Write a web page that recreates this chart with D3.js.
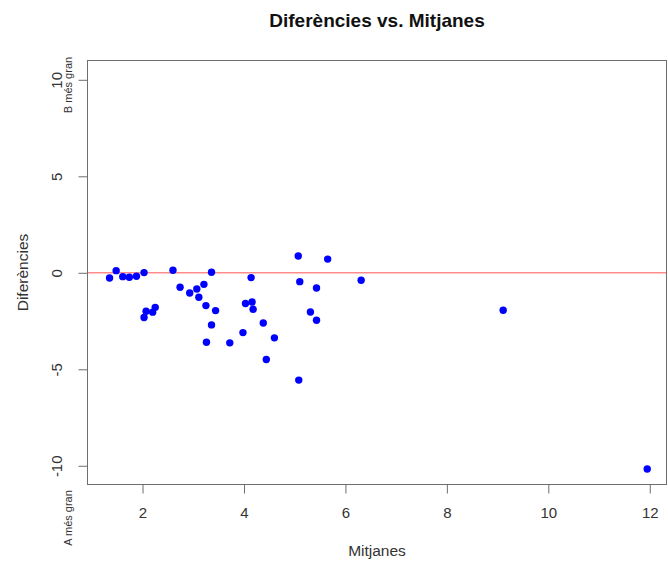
<!DOCTYPE html>
<html>
<head>
<meta charset="utf-8">
<script src="https://cdn.jsdelivr.net/npm/d3@7"></script>
<style>
  body { margin: 0; background: #fff; }
  svg { display: block; font-family: "Liberation Sans", Arial, sans-serif; }
</style>
</head>
<body>
<svg id="chart"></svg>
<script>
const width = 668, height = 563

// mitjanes (x) i diferències (y)
const mitjanes = [1.35, 1.48, 1.61, 1.74, 1.88, 2.03, 2.07, 2.20, 2.25, 2.03,
    2.60, 2.74, 2.93, 3.07, 3.21, 3.11, 3.25, 3.44, 3.36, 3.36,
    3.26, 3.72, 3.98, 4.03, 4.16, 4.18, 4.14, 4.38, 4.60, 4.44,
    5.07, 5.10, 5.08, 5.31, 5.43, 5.43, 5.65, 6.31, 9.11, 11.95]
const diferencies = [-0.27, 0.11, -0.20, -0.23, -0.18, 0.01, -1.99, -2.04, -1.79, -2.32,
    0.13, -0.75, -1.05, -0.84, -0.60, -1.27, -1.70, -1.96, 0.03, -2.70,
    -3.60, -3.63, -3.10, -1.59, -1.51, -1.89, -0.25, -2.60, -3.37, -4.49,
    0.87, -0.46, -5.56, -2.03, -2.46, -0.79, 0.71, -0.39, -1.94, -10.17]
const x_ticks = [2, 4, 6, 8, 10, 12]
const y_ticks = [-10, -5, 0, 5, 10]

const plot_left = 87.5, plot_right = 666.5, plot_top = 60.5, plot_bottom = 484.5

const svg = d3.select("#chart")
    .attr("width", width)
    .attr("height", height)

let x = d3.scaleLinear().domain([0.915, 12.33]).range([plot_left, plot_right])
let y = d3.scaleLinear().domain([-10.97, 11.0]).range([plot_bottom, plot_top])

// línia de referència a zero
svg.append("line")
    .attr("x1", plot_left).attr("x2", plot_right)
    .attr("y1", y(0)).attr("y2", y(0))
    .attr("stroke", "#ff8c8c")
    .attr("stroke-width", 1.5)

// punts
svg.append("g")
    .attr("fill", "#0000ff")
    .selectAll("circle")
    .data(mitjanes.map((m, i) => [m, diferencies[i]]))
    .enter()
    .append("circle")
    .attr("cx", d => x(d[0]))
    .attr("cy", d => y(d[1]))
    .attr("r", 3.7)

// caixa
svg.append("rect")
    .attr("x", plot_left).attr("y", plot_top)
    .attr("width", plot_right - plot_left).attr("height", plot_bottom - plot_top)
    .attr("fill", "none")
    .attr("stroke", "#6e6e6e")
    .attr("stroke-width", 1)

// eixos
let xAxis = d3.axisBottom(x).tickValues(x_ticks).tickSize(9).tickPadding(14)
let gx = svg.append("g")
    .attr("transform", `translate(0,${plot_bottom})`)
    .call(xAxis)
gx.select(".domain").remove()
gx.selectAll("line").attr("stroke", "#6e6e6e")
gx.selectAll("text").attr("font-size", 15).attr("fill", "#333").attr("font-family", null)

let yAxis = d3.axisLeft(y).tickValues(y_ticks).tickSize(9)
    .tickFormat(d => d < 0 ? "-" + Math.abs(d) : d)
let gy = svg.append("g")
    .attr("transform", `translate(${plot_left},0)`)
    .call(yAxis)
gy.select(".domain").remove()
gy.selectAll("line").attr("stroke", "#6e6e6e")
gy.selectAll("text")
    .attr("font-size", 15).attr("fill", "#333").attr("font-family", null)
    .attr("x", null)
    .attr("text-anchor", "middle")
    .attr("transform", "translate(-30.5,0) rotate(-90)")
    .attr("y", 0)
    .attr("dy", "0.35em")

// textos
svg.append("text")
    .attr("x", (plot_left + plot_right) / 2).attr("y", 27)
    .attr("text-anchor", "middle")
    .attr("font-size", 19).attr("font-weight", "bold")
    .attr("fill", "#111")
    .text("Diferències vs. Mitjanes")

svg.append("text")
    .attr("x", (plot_left + plot_right) / 2).attr("y", 556)
    .attr("text-anchor", "middle")
    .attr("font-size", 15.5).attr("fill", "#333")
    .text("Mitjanes")

svg.append("text")
    .attr("transform", `translate(28,${(plot_top + plot_bottom) / 2}) rotate(-90)`)
    .attr("text-anchor", "middle")
    .attr("font-size", 15.5).attr("fill", "#333")
    .text("Diferències")

svg.append("text")
    .attr("transform", `translate(72,85) rotate(-90)`)
    .attr("text-anchor", "middle")
    .attr("font-size", 11).attr("fill", "#333")
    .text("B més gran")

svg.append("text")
    .attr("transform", `translate(72,518) rotate(-90)`)
    .attr("text-anchor", "middle")
    .attr("font-size", 11).attr("fill", "#333")
    .text("A més gran")
</script>
</body>
</html>
